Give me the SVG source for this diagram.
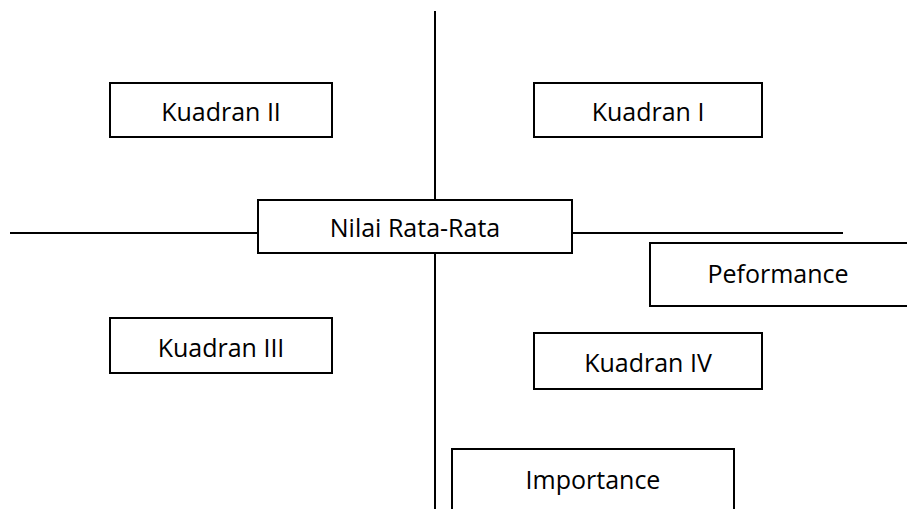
<svg xmlns="http://www.w3.org/2000/svg" width="907" height="509" viewBox="0 0 907 509">
<style>
.box{fill:#fff;stroke:#000;stroke-width:2}
.ln{stroke:#000;stroke-width:2;fill:none}
text{font-family:"Open Sans","Liberation Sans",sans-serif;font-size:25px;fill:#000;text-anchor:middle}
</style>
<rect width="907" height="509" fill="#fff"/>
<g id="connectors">
<line class="ln" x1="435" y1="11" x2="435" y2="509"/>
<line class="ln" x1="10" y1="233" x2="843" y2="233"/>
</g>
<g id="kuadran1"><rect class="box" x="534" y="83" width="228" height="54"/><text x="648" y="121">Kuadran I</text></g>
<g id="kuadran2"><rect class="box" x="110" y="83" width="222" height="54"/><text x="221" y="121">Kuadran II</text></g>
<g id="nilai"><rect class="box" x="258" y="200" width="314" height="53"/><text x="415" y="237">Nilai Rata-Rata</text></g>
<g id="peformance"><rect class="box" x="650" y="243" width="270" height="63"/><text x="778" y="283">Peformance</text></g>
<g id="kuadran3"><rect class="box" x="110" y="318" width="222" height="55"/><text x="221" y="357">Kuadran III</text></g>
<g id="kuadran4"><rect class="box" x="534" y="333" width="228" height="56"/><text x="648" y="372">Kuadran IV</text></g>
<g id="importance"><rect class="box" x="452" y="449" width="282" height="80"/><text x="593" y="489">Importance</text></g>
</svg>
